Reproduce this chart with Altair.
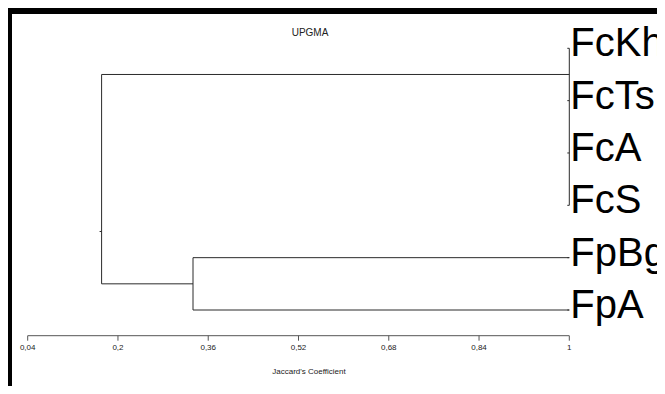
import altair as alt
import pandas as pd

# ---- data ----
leaves = ["FcKh", "FcTs", "FcA", "FcS", "FpBg", "FpA"]
leaf_similarity = [1.0, 1.0, 1.0, 1.0, 1.0, 1.0]

cluster_names = ["Fc", "Fp", "root"]
cluster_children = [["FcKh", "FcTs", "FcA", "FcS"], ["FpBg", "FpA"], ["Fc", "Fp"]]
cluster_similarity = [1.0, 0.333, 0.171]
cluster_attach = [0.5, 4.5, 3.5]  # leaf-order position where each node joins its parent

tick_values = [0.04, 0.2, 0.36, 0.52, 0.68, 0.84, 1.0]
tick_labels = ["0,04", "0,2", "0,36", "0,52", "0,68", "0,84", "1"]

title_text = "UPGMA"
axis_title = "Jaccard's Coefficient"

# ---- build dendrogram segments from the tree ----
ypos = {name: i for i, name in enumerate(leaves)}
xpos = {name: s for name, s in zip(leaves, leaf_similarity)}
segs = []
for name, children, sim, attach in zip(cluster_names, cluster_children,
                                       cluster_similarity, cluster_attach):
    ys = [ypos[c] for c in children]
    segs.append({"x": sim, "x2": sim, "y": min(ys), "y2": max(ys)})
    for c in children:
        segs.append({"x": sim, "x2": xpos[c], "y": ypos[c], "y2": ypos[c]})
    ypos[name] = attach
    xpos[name] = sim
seg_df = pd.DataFrame(segs)

leaf_df = pd.DataFrame({"name": leaves, "x": leaf_similarity,
                        "y": [ypos[l] for l in leaves]})
root_df = pd.DataFrame({"x": [cluster_similarity[-1]], "y": [cluster_attach[-1]]})
tick_df = pd.DataFrame({"x": tick_values, "label": tick_labels})
axis_df = pd.DataFrame({"x": [tick_values[0]], "x2": [tick_values[-1]]})

W, H = 649, 378
xs = alt.Scale(domain=[0.005081, 1.15545], nice=False, zero=False)
ys = alt.Scale(domain=[6.452, -0.770], nice=False, zero=False)
LINE = "#2b2b2b"
FONT = "Liberation Sans"

tree = alt.Chart(seg_df).mark_rule(color=LINE, strokeWidth=1).encode(
    x=alt.X("x:Q", scale=xs, axis=None), x2="x2:Q",
    y=alt.Y("y:Q", scale=ys, axis=None), y2="y2:Q")

leaf_ticks = alt.Chart(leaf_df).mark_rule(color=LINE, strokeWidth=1, x2Offset=-2).encode(
    x=alt.X("x:Q", scale=xs, axis=None), x2="x:Q",
    y=alt.Y("y:Q", scale=ys, axis=None))

root_tick = alt.Chart(root_df).mark_rule(color=LINE, strokeWidth=1, x2Offset=-2).encode(
    x=alt.X("x:Q", scale=xs, axis=None), x2="x:Q",
    y=alt.Y("y:Q", scale=ys, axis=None))

labels = alt.Chart(leaf_df).mark_text(
    align="left", baseline="alphabetic", dx=1, dy=8, fontSize=40, font=FONT,
    color="black").encode(
    x=alt.X("x:Q", scale=xs, axis=None),
    y=alt.Y("y:Q", scale=ys, axis=None), text="name:N")

axis_line = alt.Chart(axis_df).mark_rule(color="#555555", strokeWidth=1).encode(
    x=alt.X("x:Q", scale=xs, axis=None), x2="x2:Q", y=alt.value(327.7))

axis_ticks = alt.Chart(tick_df).mark_rule(color="#555555", strokeWidth=1).encode(
    x=alt.X("x:Q", scale=xs, axis=None), y=alt.value(327.7), y2=alt.value(332.7))

axis_labels = alt.Chart(tick_df).mark_text(
    baseline="middle", align="center", fontSize=8, font=FONT, color="#222222").encode(
    x=alt.X("x:Q", scale=xs, axis=None), y=alt.value(339.5), text="label:N")

title_df = pd.DataFrame({"t": [title_text]})
title = alt.Chart(title_df).mark_text(
    baseline="middle", align="center", fontSize=10, font=FONT, color="#222222").encode(
    x=alt.value(302), y=alt.value(24.6), text="t:N")

xt_df = pd.DataFrame({"t": [axis_title]})
xtitle = alt.Chart(xt_df).mark_text(
    baseline="middle", align="center", fontSize=8, font=FONT, color="#222222").encode(
    x=alt.value(301), y=alt.value(363.5), text="t:N")

left_band = alt.Chart(title_df).mark_rect(color="black").encode(
    x=alt.value(0), x2=alt.value(4), y=alt.value(0), y2=alt.value(H))
top_band = alt.Chart(title_df).mark_rect(color="black").encode(
    x=alt.value(0), x2=alt.value(W), y=alt.value(0), y2=alt.value(6))

chart = alt.layer(
    tree, leaf_ticks, root_tick, labels, axis_line, axis_ticks, axis_labels,
    title, xtitle, left_band, top_band
).properties(
    width=W, height=H, autosize=alt.AutoSizeParams(type="none"), padding=0,
    background="white"
).configure_view(stroke=None)

chart.save("out.html", embed_options={"renderer": "svg", "actions": False})
